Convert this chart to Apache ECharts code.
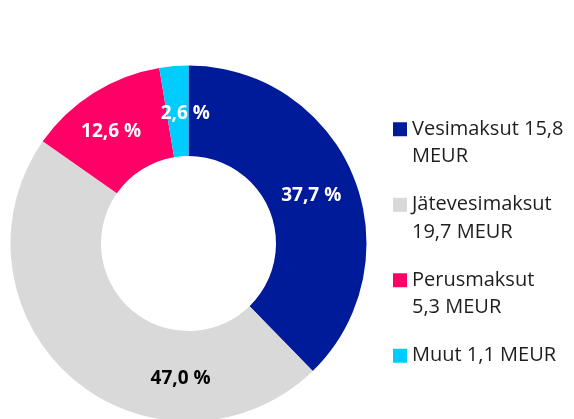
<!DOCTYPE html>
<html>
<head>
  <meta charset="UTF-8">
  <title>Maksut</title>
  <script src="https://cdn.jsdelivr.net/npm/echarts@6/dist/echarts.min.js"></script>
  <style>
    html, body { margin: 0; padding: 0; background: #fff; }
    #main { width: 574px; height: 419px; }
  </style>
</head>
<body>
<div id="main"></div>
<script>
  // Data
  const categories = ['Vesimaksut', 'Jätevesimaksut', 'Perusmaksut', 'Muut'];
  const valuesMeur = [15.8, 19.7, 5.3, 1.1];
  const legendLabels = [
    'Vesimaksut 15,8\nMEUR',
    'Jätevesimaksut\n19,7 MEUR',
    'Perusmaksut\n5,3 MEUR',
    'Muut 1,1 MEUR\n'
  ];

  const colors = ['#001b9a', '#d9d9d9', '#ff0066', '#00ccff'];
  const labelColors = ['#fff', '#000', '#fff', '#fff'];
  // nudges so labels sit where the original put them
  const labelShift = [[-3, 3], [80, 32], [-5, 3], [8, 5]];

  const total = valuesMeur.reduce((a, b) => a + b, 0);
  const fmtPct = v => (v / total * 100).toFixed(1).replace('.', ',') + ' %';

  const chart = echarts.init(document.getElementById('main'), null, { renderer: 'canvas' });
  chart.setOption({
    animation: false,
    legend: {
      orient: 'vertical',
      left: 393,
      top: 88,
      padding: 0,
      itemWidth: 14,
      itemHeight: 14,
      itemGap: -7,
      icon: 'rect',
      selectedMode: false,
      data: categories,
      // empty first line keeps the first text line level with the square
      formatter: name => '\n' + legendLabels[categories.indexOf(name)],
      textStyle: {
        fontFamily: 'Open Sans',
        fontSize: 20,
        color: '#1e1e1e',
        lineHeight: 27.5
      }
    },
    series: [{
      type: 'pie',
      center: [188.5, 243.5],
      radius: [87.5, 178],
      startAngle: 90,
      clockwise: true,
      avoidLabelOverlap: false,
      emphasis: { disabled: true },
      itemStyle: { borderWidth: 0 },
      labelLine: { show: false },
      label: {
        show: true,
        position: 'inside',
        fontFamily: 'Open Sans',
        fontWeight: 'bold',
        fontSize: 19,
        formatter: p => fmtPct(p.value)
      },
      labelLayout: p => ({ dx: labelShift[p.dataIndex][0], dy: labelShift[p.dataIndex][1] }),
      data: categories.map((c, i) => ({
        name: c,
        value: valuesMeur[i],
        itemStyle: { color: colors[i] },
        label: { color: labelColors[i] }
      }))
    }]
  });
</script>
</body>
</html>
